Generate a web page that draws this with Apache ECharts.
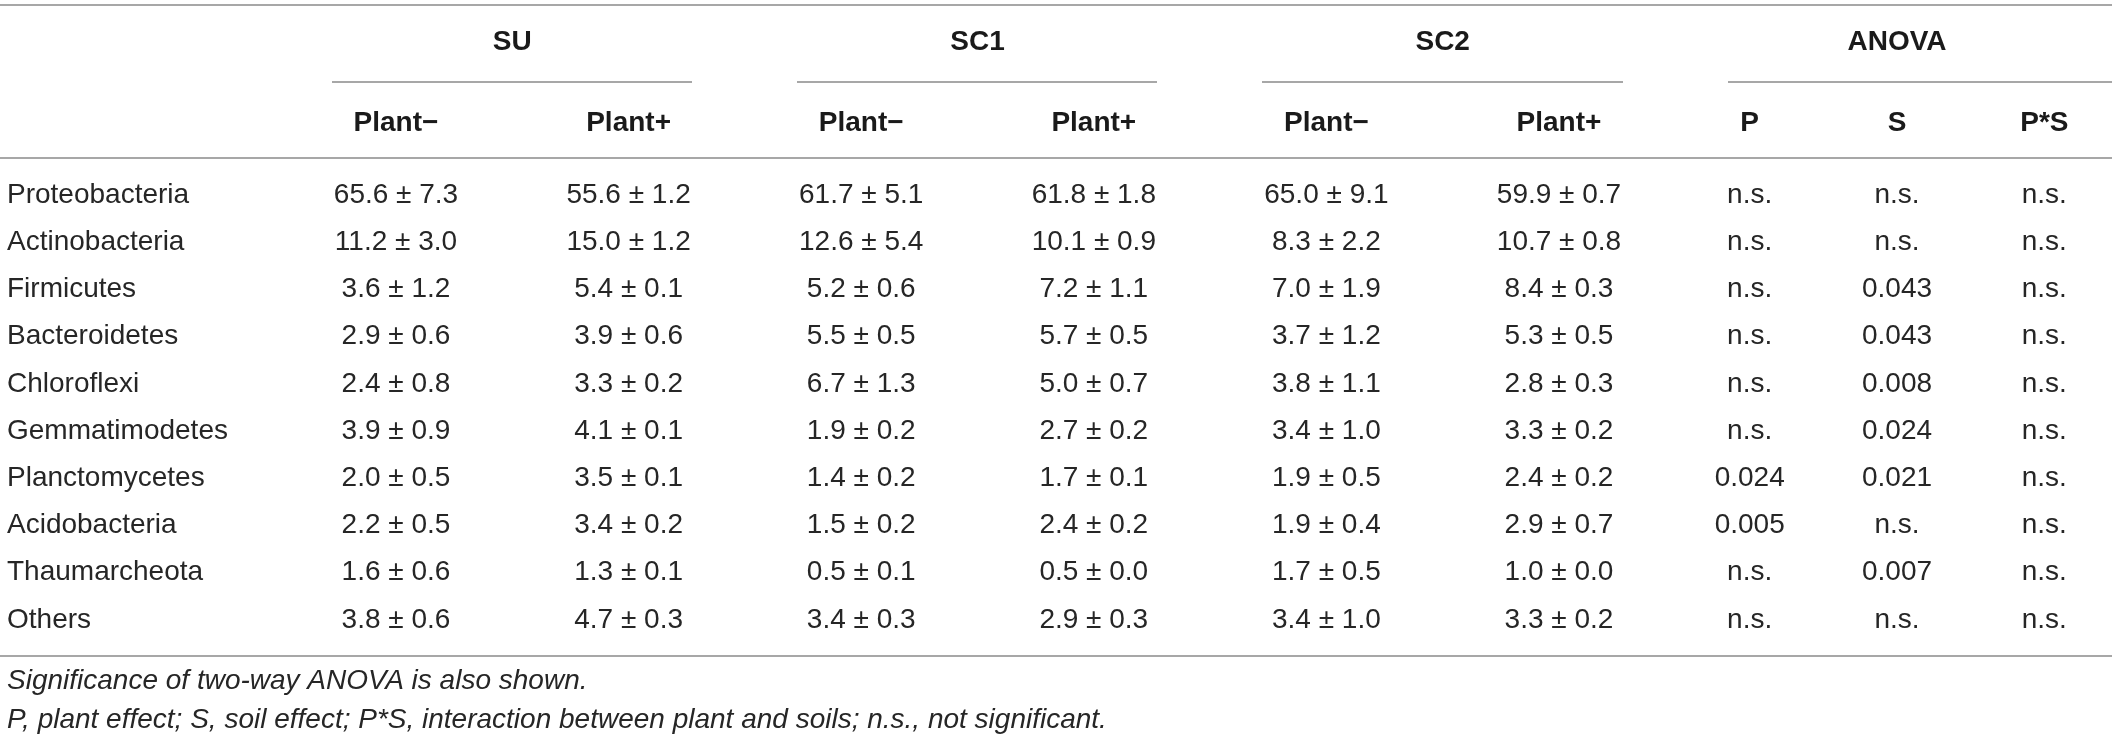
<!DOCTYPE html>
<html>
<head>
<meta charset="utf-8">
<script src="https://cdn.jsdelivr.net/npm/echarts@6/dist/echarts.min.js"></script>
<style>
html,body{margin:0;padding:0;background:#fff;}
#chart{width:2118px;height:741px;}
</style>
</head>
<body>
<div id="chart"></div>
<script>
// ---------------- DATA ----------------
const taxa = ['Proteobacteria','Actinobacteria','Firmicutes','Bacteroidetes','Chloroflexi','Gemmatimodetes','Planctomycetes','Acidobacteria','Thaumarcheota','Others'];
const soilGroups = ['SU','SC1','SC2'];
const plantCols = ['Plant\u2212','Plant+','Plant\u2212','Plant+','Plant\u2212','Plant+'];
const anovaGroup = ['ANOVA'];
const anovaCols = ['P','S','P*S'];

const SU_minus_mean  = [65.6, 11.2, 3.6, 2.9, 2.4, 3.9, 2.0, 2.2, 1.6, 3.8];
const SU_minus_sd    = [7.3, 3.0, 1.2, 0.6, 0.8, 0.9, 0.5, 0.5, 0.6, 0.6];
const SU_plus_mean   = [55.6, 15.0, 5.4, 3.9, 3.3, 4.1, 3.5, 3.4, 1.3, 4.7];
const SU_plus_sd     = [1.2, 1.2, 0.1, 0.6, 0.2, 0.1, 0.1, 0.2, 0.1, 0.3];
const SC1_minus_mean = [61.7, 12.6, 5.2, 5.5, 6.7, 1.9, 1.4, 1.5, 0.5, 3.4];
const SC1_minus_sd   = [5.1, 5.4, 0.6, 0.5, 1.3, 0.2, 0.2, 0.2, 0.1, 0.3];
const SC1_plus_mean  = [61.8, 10.1, 7.2, 5.7, 5.0, 2.7, 1.7, 2.4, 0.5, 2.9];
const SC1_plus_sd    = [1.8, 0.9, 1.1, 0.5, 0.7, 0.2, 0.1, 0.2, 0.0, 0.3];
const SC2_minus_mean = [65.0, 8.3, 7.0, 3.7, 3.8, 3.4, 1.9, 1.9, 1.7, 3.4];
const SC2_minus_sd   = [9.1, 2.2, 1.9, 1.2, 1.1, 1.0, 0.5, 0.4, 0.5, 1.0];
const SC2_plus_mean  = [59.9, 10.7, 8.4, 5.3, 2.8, 3.3, 2.4, 2.9, 1.0, 3.3];
const SC2_plus_sd    = [0.7, 0.8, 0.3, 0.5, 0.3, 0.2, 0.2, 0.7, 0.0, 0.2];

const anovaP  = ['n.s.','n.s.','n.s.','n.s.','n.s.','n.s.','0.024','0.005','n.s.','n.s.'];
const anovaS  = ['n.s.','n.s.','0.043','0.043','0.008','0.024','0.021','n.s.','0.007','n.s.'];
const anovaPS = ['n.s.','n.s.','n.s.','n.s.','n.s.','n.s.','n.s.','n.s.','n.s.','n.s.'];

const footnote1 = 'Significance of two-way ANOVA is also shown.';
const footnote2 = 'P, plant effect; S, soil effect; P*S, interaction between plant and soils; n.s., not significant.';

// ---------------- LAYOUT ----------------
const FONT = '"Liberation Sans", Arial, Helvetica, sans-serif';
const TXT = '#262626';
const RULE = '#8a8a8a';
const FS = 28;
const rowTop = 171.4, rowH = 472;
const gridA = {left: 279.7, width: 1395.6};
const gridB = {left: 1676, width: 492};
const subHeadY = 123, groupHeadY = 42;

const meanCols = [SU_minus_mean, SU_plus_mean, SC1_minus_mean, SC1_plus_mean, SC2_minus_mean, SC2_plus_mean];
const sdCols   = [SU_minus_sd, SU_plus_sd, SC1_minus_sd, SC1_plus_sd, SC2_minus_sd, SC2_plus_sd];
const anovaColsData = [anovaP, anovaS, anovaPS];

const cellsA = [];
meanCols.forEach((col, c) => col.forEach((m, r) => {
  cellsA.push([c, r, m.toFixed(1) + ' \u00b1 ' + sdCols[c][r].toFixed(1)]);
}));
const cellsB = [];
anovaColsData.forEach((col, c) => col.forEach((v, r) => cellsB.push([c, r, v])));

const hidden = {axisLine:{show:false}, axisTick:{show:false}, splitLine:{show:false}};
function topAxis(grid, cats, margin, bold) {
  return Object.assign({
    type:'category', gridIndex:grid, position:'top', data:cats,
    axisLabel:{interval:0, margin:margin, verticalAlign:'middle', fontFamily:FONT, fontSize:FS,
      fontWeight: bold ? 'bold' : 'normal', color:'#1a1a1a'}
  }, hidden);
}

const chart = echarts.init(document.getElementById('chart'), null, {renderer:'canvas'});

const W = 2112;
const lines = [
  [0, 5, W, 5],
  [332, 82, 692, 82], [797, 82, 1157, 82], [1262, 82, 1623, 82], [1728, 82, W, 82],
  [0, 158, W, 158],
  [0, 656, W, 656]
];

const cellLabel = {show:true, position:'inside', formatter:p => p.value[2],
  fontFamily:FONT, fontSize:FS, color:TXT, opacity:1};

const option = {
  backgroundColor:'#ffffff',
  animation:false,
  grid:[
    {left:gridA.left, width:gridA.width, top:rowTop, height:rowH},
    {left:gridB.left, width:gridB.width, top:rowTop, height:rowH}
  ],
  xAxis:[
    topAxis(0, plantCols, rowTop - subHeadY, true),
    topAxis(0, soilGroups, rowTop - groupHeadY, true),
    topAxis(1, anovaCols, rowTop - subHeadY, true),
    topAxis(1, anovaGroup, rowTop - groupHeadY, true)
  ],
  yAxis:[
    Object.assign({type:'category', gridIndex:0, inverse:true, data:taxa,
      axisLabel:{interval:0, align:'left', margin:gridA.left - 7, fontFamily:FONT, fontSize:FS, color:TXT}}, hidden),
    Object.assign({type:'category', gridIndex:1, inverse:true, data:taxa, axisLabel:{show:false}}, hidden)
  ],
  series:[
    {type:'scatter', xAxisIndex:0, yAxisIndex:0, data:cellsA, symbolSize:2,
     itemStyle:{color:'rgba(255,255,255,0)'}, label:cellLabel, emphasis:{disabled:true}},
    {type:'scatter', xAxisIndex:2, yAxisIndex:1, data:cellsB, symbolSize:2,
     itemStyle:{color:'rgba(255,255,255,0)'}, label:cellLabel, emphasis:{disabled:true}}
  ],
  graphic:[
    ...lines.map(l => ({type:'line', silent:true, shape:{x1:l[0], y1:l[1], x2:l[2], y2:l[3]},
      style:{stroke:RULE, lineWidth:1.5}})),
    {type:'text', left:7, top:683 - 16, style:{text:footnote1, font:'italic ' + FS + 'px ' + FONT, fill:TXT}},
    {type:'text', left:7, top:722 - 16, style:{text:footnote2, font:'italic ' + FS + 'px ' + FONT, fill:TXT}}
  ]
};
chart.setOption(option);
</script>
</body>
</html>
